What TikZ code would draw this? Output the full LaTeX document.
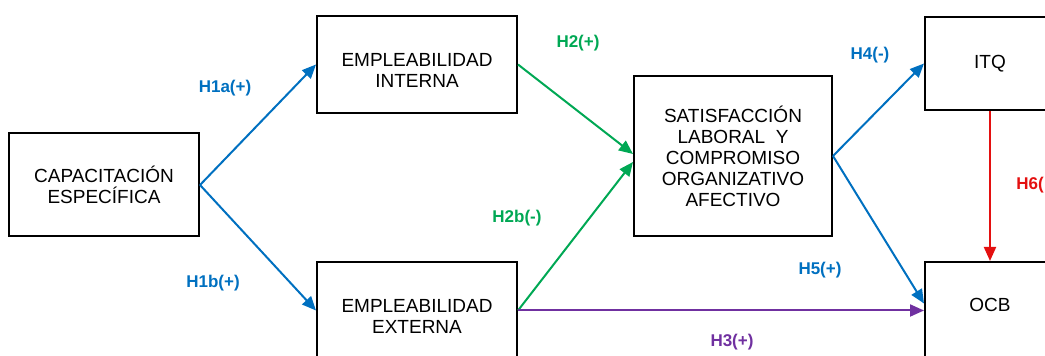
\documentclass[tikz,border=0pt]{standalone}
\usepackage{fontspec}
\setmainfont{Liberation Sans}
\usetikzlibrary{arrows.meta,positioning}
\definecolor{hblue}{RGB}{0,112,192}
\definecolor{hgreen}{RGB}{0,168,84}
\definecolor{hpurple}{RGB}{112,48,160}
\definecolor{hred}{RGB}{228,16,16}
\newcommand{\lowtxt}{\rule{0pt}{13pt}}
\newcommand{\hightxt}{\rule[-6pt]{0pt}{1pt}}

\begin{document}
\begin{tikzpicture}[
  x=0.5pt,y=-0.5pt,
  font=\fontsize{9.5}{10.5}\selectfont,
  var/.style={draw=black,line width=1pt,align=center,inner sep=2pt},
  hyp/.style={font=\fontsize{8.5}{10}\selectfont\bfseries},
  ar/.style={-{Triangle[length=7pt,width=6pt]},line width=1pt}
]
\useasboundingbox (0,0) rectangle (1045,356);
\clip (0,0) rectangle (1045,356);

\node[var,minimum width=95pt,minimum height=51.5pt] (cap) at (104,185) {CAPACITACIÓN\\ESPECÍFICA};
\node[var,minimum width=100pt,minimum height=48.5pt] (inter) at (417,64.5) {\lowtxt EMPLEABILIDAD\\INTERNA};
\node[var,minimum width=100pt,minimum height=48.5pt] (exter) at (417,310.5) {\lowtxt EMPLEABILIDAD\\EXTERNA};
\node[var,minimum width=99pt,minimum height=80pt] (sat) at (733,156) {SATISFACCIÓN\\LABORAL\ \ Y\\COMPROMISO\\ORGANIZATIVO\\AFECTIVO};
\node[var,minimum width=65pt,minimum height=46.5pt] (itq) at (990,63.5) {ITQ};
\node[var,minimum width=65pt,minimum height=48.5pt] (ocb) at (990,310.5) {OCB\hightxt};

\draw[ar,hblue] (cap.east) -- (inter.west);
\draw[ar,hblue] (cap.east) -- (exter.west);
\draw[ar,hgreen] (inter.east) -- ([yshift=1pt]sat.west);
\draw[ar,hgreen] (exter.east) -- ([yshift=-3pt]sat.west);
\draw[ar,hpurple] (exter.east) -- (ocb.west);
\draw[ar,hblue] (sat.east) -- (itq.west);
\draw[ar,hblue] (sat.east) -- ([yshift=3.5pt]ocb.west);
\draw[ar,hred] (itq.south) -- (ocb.north);

\node[hyp,hblue] (h1a) at (225,88) {H1a(+)};
\node[hyp,hblue] (h1b) at (213,283) {H1b(+)};
\node[hyp,hgreen] (h2) at (578,43) {H2(+)};
\node[hyp,hgreen] (h2b) at (517,218) {H2b(-)};
\node[hyp,hpurple] (h3) at (732,342) {H3(+)};
\node[hyp,hblue] (h4) at (870,55) {H4(-)};
\node[hyp,hblue] (h5) at (820,270) {H5(+)};
\node[hyp,hred,anchor=west,inner xsep=0pt] (h6) at (1016,185) {H6(};
\end{tikzpicture}
\end{document}
